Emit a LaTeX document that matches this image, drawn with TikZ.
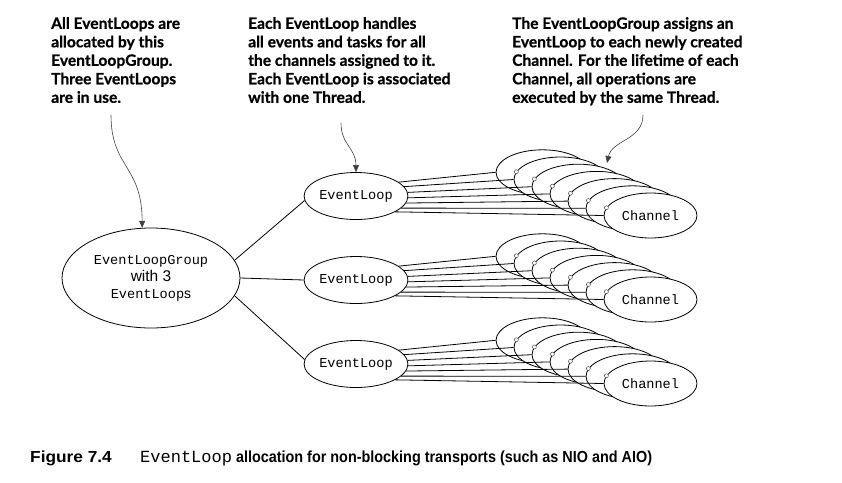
\documentclass[tikz,border=0pt]{standalone}
\usepackage{fontspec}
\setmainfont{Liberation Sans}
\setmonofont{Liberation Mono}
\newfontfamily\notefont[BoldFeatures={FakeBold=0.6}]{Lato}
\newfontfamily\capfont[FakeStretch=0.9]{Liberation Sans}
\usetikzlibrary{shapes.geometric,arrows.meta,calc}
\tikzset{
  loopnode/.style={ellipse, draw, fill=white, line width=0.8pt, minimum width=88pt, minimum height=47pt, inner sep=0pt, font=\ttfamily\fontsize{13.6}{16}\selectfont},
  chan/.style={ellipse, draw, fill=white, line width=0.8pt, minimum width=93pt, minimum height=45pt, inner sep=0pt, font=\ttfamily\fontsize{13.6}{16}\selectfont},
  groupnode/.style={ellipse, draw, fill=white, line width=0.8pt, minimum width=178pt, minimum height=100pt, inner sep=0pt, align=center, font=\fontsize{15.5}{17}\selectfont},
  note/.style={anchor=north west, align=left, inner sep=0pt, font=\notefont\bfseries\fontsize{15.6}{18.5}\selectfont},
  callout/.style={draw=black!75, line width=0.6pt, -{Triangle[length=7pt,width=6pt]}},
  link/.style={line width=0.8pt},
  dotmark/.style={circle, draw=black!70, fill=white, inner sep=0pt, minimum size=4pt, line width=0.5pt},
}
\begin{document}
\begin{tikzpicture}[x=1pt,y=-1pt]
\useasboundingbox (0,0) rectangle (842,482);
\fill[white] (0,0) rectangle (842,482);

% annotations
\node[note] (n1) at (51,17) {All EventLoops are\\allocated by this\\EventLoopGroup.\\Three EventLoops\\are in use.};
\node[note] (n2) at (248,17) {Each EventLoop handles\\all events and tasks for all\\the channels assigned to it.\\Each EventLoop is associated\\with one Thread.};
\node[note] (n3) at (512,17) {The EventLoopGroup assigns an\\EventLoop to each newly created\\Channel. For the lifetime of each\\Channel, all operations are\\executed by the same Thread.};

% group
\node[groupnode] (grp) at (151,278) {\ttfamily\fontsize{13.6}{17}\selectfont EventLoopGroup\\with 3\\{\ttfamily\fontsize{13.6}{17}\selectfont EventLoop}{\fontsize{14}{17}\selectfont s}};

\foreach \k in {0,1,2} {
  \node[loopnode] (el\k) at (356,{196+84*\k}) {EventLoop};
  \foreach \i in {0,...,5} {
    \node[chan] (ch\k-\i) at ({542.5+18*\i},{172.3+84*\k+7.2*\i}) {};
  }
  \node[chan] (ch\k-6) at (650.5,{215.5+84*\k}) {Channel};
  \foreach \i/\a in {0/18, 1/11.3, 2/4.7, 3/-2, 4/-8.7, 5/-15.3, 6/-22} {
    \draw[link] (el\k.\a) -- (ch\k-\i.west);
  }
  \foreach \i in {1,...,6} {
    \node[dotmark] at (ch\k-\i.170) {};
  }
}

\draw[link] (grp.12) -- (el0.185);
\draw[link] (grp.east) -- (el1.west);
\draw[link] (grp.-12) -- (el2.175);

% callouts
\coordinate (s1) at (111,115);
\coordinate (s2) at (341,123);
\coordinate (s3) at (643,115);
\coordinate (t3) at (607,163);
\draw[callout] (s1) .. controls (111,168) and (142,165) .. (grp.100);
\draw[callout] (s2) .. controls (341,145) and (356,148) .. (el0.north);
\draw[callout] (s3) .. controls (643,140) and (612,140) .. (t3);

% caption
\node[anchor=base west, inner sep=0pt] (cap) at (30,462) {\capfont\bfseries\fontsize{16}{18}\selectfont \makebox[110pt][l]{\scalebox{1.2}[1]{Figure 7.4}}{\mdseries\ttfamily\fontsize{17}{18}\selectfont EventLoop} allocation for non-blocking transports (such as NIO and AIO)};
\end{tikzpicture}
\end{document}
